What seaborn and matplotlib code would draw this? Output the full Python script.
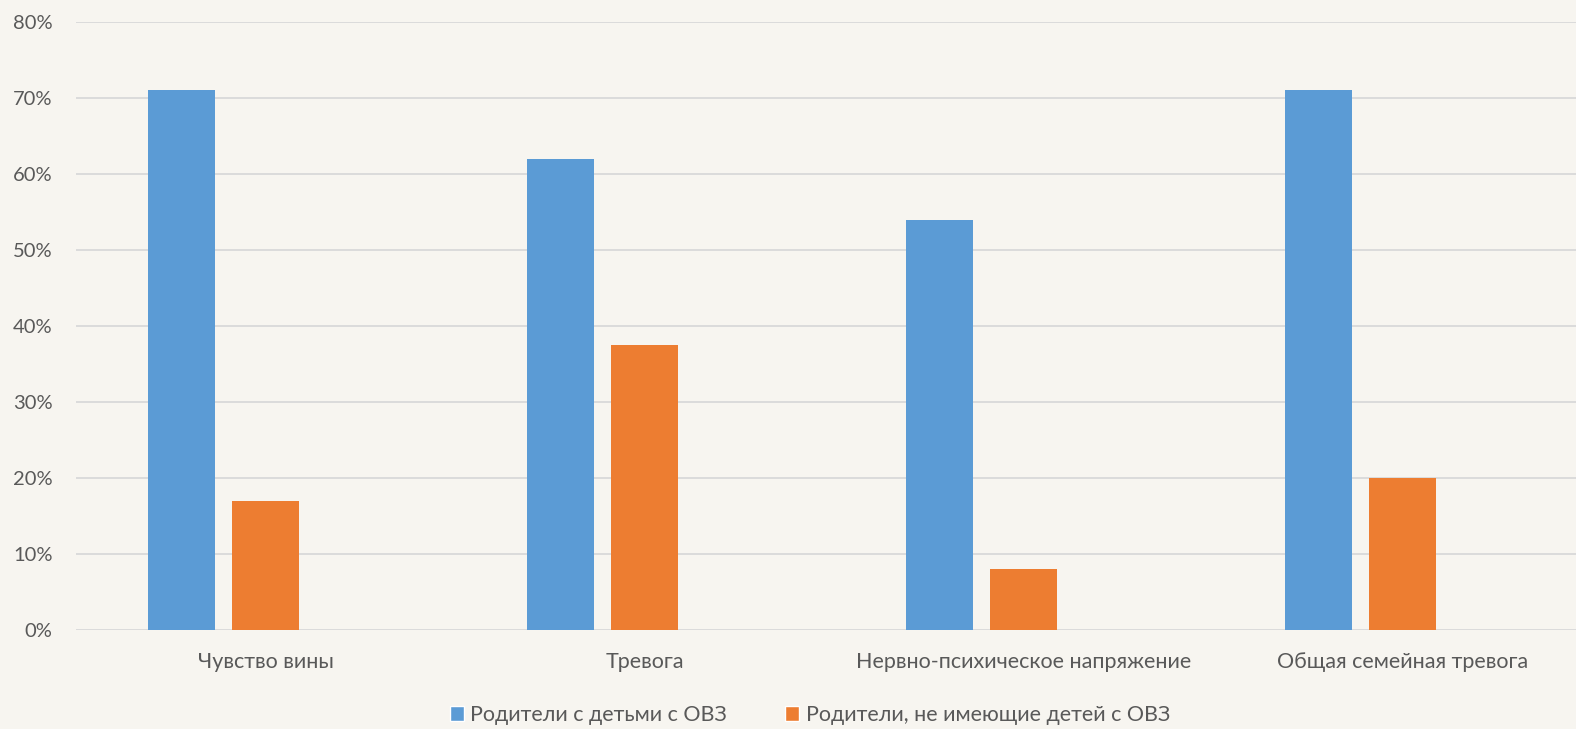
import matplotlib
matplotlib.use("Agg")
import matplotlib.pyplot as plt
from matplotlib.patches import Patch
from matplotlib.ticker import FuncFormatter
import seaborn as sns
import pandas as pd

categories = ["Чувство вины", "Тревога", "Нервно-психическое напряжение", "Общая семейная тревога"]
series_names = ["Родители с детьми с ОВЗ", "Родители, не имеющие детей с ОВЗ", "_empty"]
parents_ovz = [71, 62, 54, 71]
parents_no_ovz = [17, 37.5, 8, 20]
y_ticks = [0, 10, 20, 30, 40, 50, 60, 70, 80]

bg = "#F7F5F0"
colors = {series_names[0]: "#5B9BD5", series_names[1]: "#ED7D31", series_names[2]: "#A5A5A5"}
text_color = "#595959"

sns.set_theme(style="white")
plt.rcParams["font.family"] = ["Lato", "DejaVu Sans"]

df = pd.DataFrame({
    "category": categories * 2,
    "series": [series_names[0]] * 4 + [series_names[1]] * 4,
    "value": parents_ovz + parents_no_ovz,
})

fig = plt.figure(figsize=(15.76, 7.29), dpi=100, facecolor=bg)
ax = fig.add_axes([76 / 1576, 99 / 729, 1516 / 1576, 608 / 729])
ax.set_facecolor(bg)

sns.barplot(data=df, x="category", y="value", hue="series", order=categories,
            hue_order=series_names, palette=colors, width=0.665, gap=0.214,
            saturation=1, errorbar=None, linewidth=0, ax=ax, legend=False, zorder=3)

ax.set_ylim(0, 80)
ax.set_xlim(-0.5, 3.5)
ax.set_yticks(y_ticks)
ax.yaxis.set_major_formatter(FuncFormatter(lambda v, p: f"{int(v)}%"))
ax.grid(axis="y", color="#D9D9D9", linewidth=1.3, zorder=0)
ax.grid(axis="x", visible=False)
for s in ax.spines.values():
    s.set_visible(False)
ax.tick_params(axis="y", length=0, pad=17, labelsize=14.5, labelcolor=text_color)
ax.tick_params(axis="x", length=0, pad=16, labelsize=15.5, labelcolor=text_color)
ax.set_xlabel("")
ax.set_ylabel("")

handles = [Patch(facecolor=colors[series_names[0]], label=series_names[0]),
           Patch(facecolor=colors[series_names[1]], label=series_names[1])]
fig.legend(handles=handles, loc="center", bbox_to_anchor=(810 / 1576, 14 / 729),
           ncol=2, frameon=False, fontsize=15.5, labelcolor=text_color,
           handlelength=0.65, handleheight=0.65, handletextpad=0.3, columnspacing=2.7)

fig.savefig("out.png", dpi=100, facecolor=bg)
